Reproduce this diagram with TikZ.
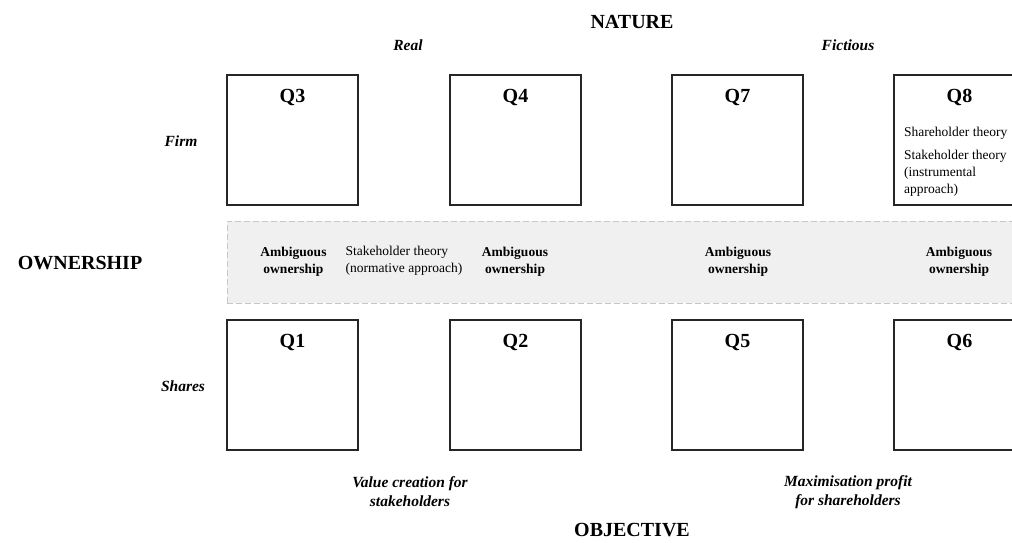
\documentclass[tikz,border=0pt]{standalone}
\usepackage{fontspec}
\setmainfont{Liberation Serif}
\begin{document}
\begin{tikzpicture}[x=1pt,y=-1pt,
  qbox/.style={draw=black!85,line width=1.1pt,fill=white,minimum width=131pt,minimum height=130pt,inner sep=0pt},
  qtitle/.style={font=\bfseries\fontsize{20}{22}\selectfont,inner sep=0pt},
  heading/.style={font=\bfseries\fontsize{20}{22}\selectfont,inner sep=0pt},
  sublabel/.style={font=\bfseries\itshape\fontsize{15.5}{19}\selectfont,align=center,inner sep=0pt},
  amb/.style={font=\bfseries\fontsize{13.5}{17}\selectfont,align=center,inner sep=0pt},
  theory/.style={font=\fontsize{13.5}{17}\selectfont,align=left,inner sep=0pt},
  band/.style={draw=black!22,dash pattern=on 6pt off 3pt,line width=1pt,fill=black!6,minimum width=803pt,minimum height=82pt,inner sep=0pt}]
\clip (0,0) rectangle (1012,542);
\fill[white] (0,0) rectangle (1012,542);

% band
\node[band] (band) at (628.5,262) {};

% boxes
\node[qbox] (q3) at (292.5,140) {};
\node[qbox] (q4) at (515.5,140) {};
\node[qbox] (q7) at (737.5,140) {};
\node[qbox] (q8) at (959.5,140) {};
\node[qbox] (q1) at (292.5,385) {};
\node[qbox] (q2) at (515.5,385) {};
\node[qbox] (q5) at (737.5,385) {};
\node[qbox] (q6) at (959.5,385) {};

\node[qtitle] (t3) at (292.5,97) {Q3};
\node[qtitle] (t4) at (515.5,97) {Q4};
\node[qtitle] (t7) at (737.5,97) {Q7};
\node[qtitle] (t8) at (959.5,97) {Q8};
\node[qtitle] (t1) at (292.5,342) {Q1};
\node[qtitle] (t2) at (515.5,342) {Q2};
\node[qtitle] (t5) at (737.5,342) {Q5};
\node[qtitle] (t6) at (959.5,342) {Q6};

\node[theory,anchor=west] (sh8) at (904,133) {Shareholder theory};
\node[theory,anchor=north west] (st8) at (904,150) {Stakeholder theory\\(instrumental\\approach)};

% band texts
\node[amb] (a1) at (293.5,262) {Ambiguous\\ownership};
\node[theory] (norm) at (404,261) {Stakeholder theory\\(normative approach)};
\node[amb] (a2) at (515,262) {Ambiguous\\ownership};
\node[amb] (a3) at (738,262) {Ambiguous\\ownership};
\node[amb] (a4) at (959,262) {Ambiguous\\ownership};

% headings
\node[heading] (nature) at (632,22) {NATURE};
\node[sublabel] (real) at (408,45) {Real};
\node[sublabel] (fict) at (848,45) {Fictious};
\node[heading] (own) at (80,263) {OWNERSHIP};
\node[sublabel] (firm) at (181,141) {Firm};
\node[sublabel] (shares) at (183,386) {Shares};
\node[sublabel] (value) at (410,492) {Value creation for\\stakeholders};
\node[sublabel] (maxp) at (848,492) {Maximisation profit\\for shareholders};
\node[heading] (obj) at (632,530) {OBJECTIVE};
\end{tikzpicture}
\end{document}
